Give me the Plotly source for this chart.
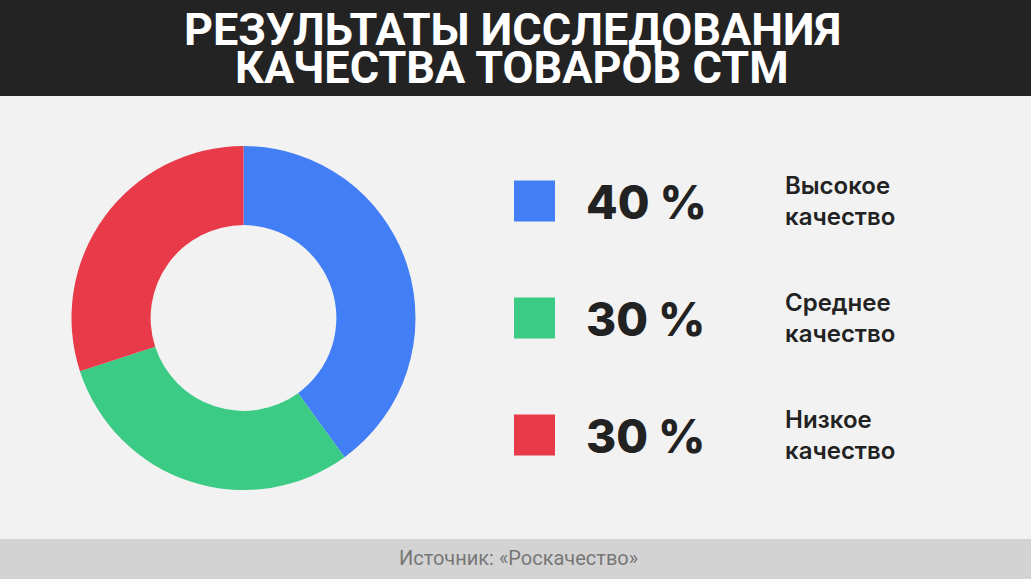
import plotly.graph_objects as go

title_lines = ["РЕЗУЛЬТАТЫ ИССЛЕДОВАНИЯ", "КАЧЕСТВА ТОВАРОВ СТМ"]
categories = ["Высокое качество", "Среднее качество", "Низкое качество"]
label_lines = [["Высокое", "качество"], ["Среднее", "качество"], ["Низкое", "качество"]]
values = [40, 30, 30]
colors = ["#427ef5", "#3ccb85", "#e83a49"]
source = "Источник: «Роскачество»"

W, H = 1031, 579

fig = go.Figure()
fig.add_trace(go.Pie(
    labels=categories, values=values, hole=0.54, sort=False,
    direction="clockwise", rotation=0,
    marker=dict(colors=colors, line=dict(width=0)),
    textinfo="none", hoverinfo="label+percent", showlegend=False,
    domain=dict(x=[71.5 / W, 415.5 / W], y=[(H - 490) / H, (H - 146) / H]),
))

shapes = [
    dict(type="rect", xref="paper", yref="paper", x0=0, x1=1, y0=(H - 96) / H, y1=1,
         fillcolor="#232323", line=dict(width=0), layer="below"),
    dict(type="rect", xref="paper", yref="paper", x0=0, x1=1, y0=0, y1=(H - 539) / H,
         fillcolor="#d3d3d3", line=dict(width=0), layer="below"),
]
annotations = []
for line, yc in zip(title_lines, [30, 67]):
    annotations.append(dict(text=line, x=512 / W, y=(H - yc) / H, xref="paper", yref="paper",
                            showarrow=False, xanchor="center", yanchor="middle",
                            font=dict(family="Roboto", size=45, color="#ffffff", weight="bold")))
annotations.append(dict(text=source, x=518 / W, y=(H - 558) / H, xref="paper", yref="paper",
                        showarrow=False, xanchor="center", yanchor="middle",
                        font=dict(family="Roboto", size=20, color="#777777")))

row_y = [201, 318, 435]
sq = 41
for i, (v, c, ll) in enumerate(zip(values, colors, label_lines)):
    yc = row_y[i]
    shapes.append(dict(type="rect", xref="paper", yref="paper",
                       x0=514 / W, x1=(514 + sq) / W,
                       y0=(H - yc - sq / 2) / H, y1=(H - yc + sq / 2) / H,
                       fillcolor=c, line=dict(width=0)))
    annotations.append(dict(text=f"{v} %", x=584 / W, y=(H - yc - 1) / H,
                            xref="paper", yref="paper", showarrow=False,
                            xanchor="left", yanchor="middle",
                            font=dict(family="Inter", size=46, color="#222222", weight=800)))
    annotations.append(dict(text="<br>".join(ll), x=783 / W, y=(H - yc) / H,
                            xref="paper", yref="paper", showarrow=False,
                            xanchor="left", yanchor="middle", align="left",
                            font=dict(family="Inter", size=24, color="#222222", weight=600)))

fig.update_layout(
    width=W, height=H, margin=dict(l=0, r=0, t=0, b=0),
    paper_bgcolor="#f2f2f2", plot_bgcolor="#f2f2f2",
    shapes=shapes, annotations=annotations,
)
fig.write_html("out.html", config={"displayModeBar": False},
               post_script="document.body.style.margin='0';document.body.style.overflow='hidden';")
